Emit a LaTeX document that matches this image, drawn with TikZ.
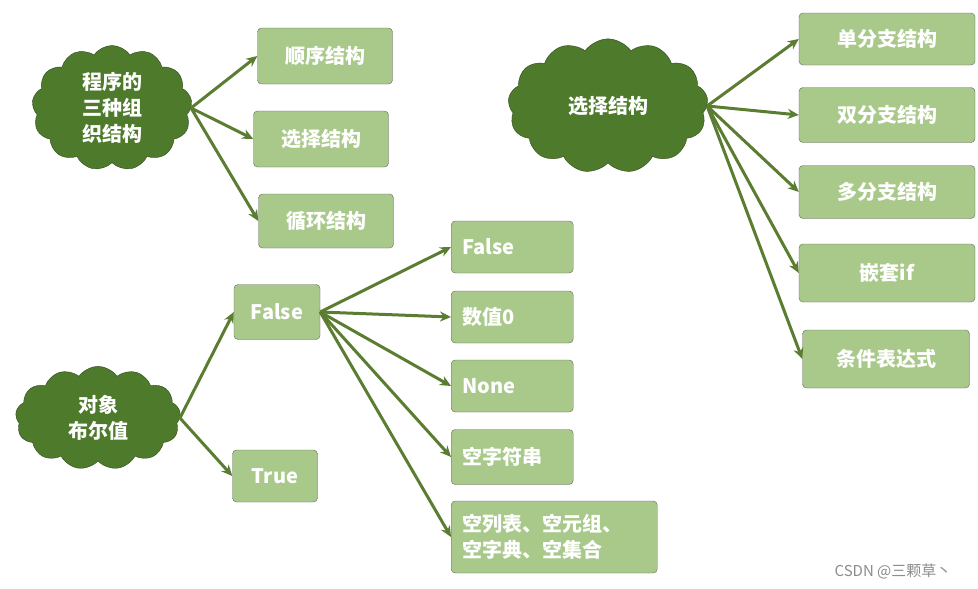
\documentclass[tikz,border=0pt]{standalone}
\usepackage{fontspec}
\setmainfont{Noto Sans CJK SC}
\usetikzlibrary{shapes.symbols,arrows.meta}
\definecolor{leaf}{HTML}{A9C98A}
\definecolor{moss}{HTML}{4E7A2C}
\definecolor{stem}{HTML}{5B7D32}
\tikzset{
  box/.style={draw=black!60,fill=leaf,rounded corners=4pt,text=white,
    font=\fontsize{20}{26}\selectfont\bfseries,align=left,inner sep=6pt},
  bush/.style={cloud,cloud puffs=13,cloud puff arc=110,draw=moss!60!black,fill=moss,
    text=white,font=\fontsize{20}{26}\selectfont\bfseries,align=center},
  twig/.style={-{Stealth[length=11pt,width=10pt]},draw=stem,line width=3pt}
}
\begin{document}
\begin{tikzpicture}[x=1pt,y=-1pt]
\useasboundingbox[fill=white] (0,0) rectangle (978,589);

\node[bush,minimum width=160,minimum height=125] (kinds) at (112,108) {程序的\\三种组\\织结构};
\node[box,minimum width=135,minimum height=56] (seq) at (325,56) {顺序结构};
\node[box,minimum width=135,minimum height=56] (sel) at (321,139) {选择结构};
\node[box,minimum width=135,minimum height=54] (loop) at (326,221) {循环结构};
\draw[twig] (kinds.east) -- (seq.west);
\draw[twig] (kinds.east) -- (sel.west);
\draw[twig] (kinds.east) -- (loop.west);

\node[bush,minimum width=200,minimum height=80] (choice) at (608,106) {选择结构};
\node[box,minimum width=176,minimum height=52] (one) at (887,39) {单分支结构};
\node[box,minimum width=176,minimum height=55] (two) at (887,115) {双分支结构};
\node[box,minimum width=176,minimum height=53] (many) at (887,192) {多分支结构};
\node[box,minimum width=176,minimum height=58,align=center] (nest) at (887,273) {嵌套if};
\node[box,minimum width=167,minimum height=58] (cond) at (886,359) {条件表达式};
\foreach \t in {one,two,many,nest,cond}
  \draw[twig] (choice.east) -- (\t.west);

\node[bush,minimum width=165,minimum height=90] (bool) at (98,418) {对象\\布尔值};
\node[box,minimum width=86,minimum height=55] (no) at (277,312) {False};
\node[box,minimum width=85,minimum height=52] (yes) at (275,476) {True};
\draw[twig] (bool.east) -- (no.west);
\draw[twig] (bool.east) -- (yes.west);

\tikzset{box/.append style={inner xsep=11pt}}
\node[box,text width=100,minimum height=52,anchor=west] (f1) at (451,247) {False};
\node[box,text width=100,minimum height=52,anchor=west] (f2) at (451,317) {数值0};
\node[box,text width=100,minimum height=52,anchor=west] (f3) at (451,386) {None};
\node[box,text width=100,minimum height=55,anchor=west] (f4) at (451,457) {空字符串};
\node[box,text width=184,minimum height=72,anchor=west] (f5) at (451,537) {空列表、空元组、\\空字典、空集合};
\foreach \t in {f1,f2,f3,f4,f5}
  \draw[twig] (no.east) -- (\t.west);

\node[text=black!45,font=\fontsize{15}{18}\selectfont] (mark) at (893,571) {CSDN @三颗草丶};
\end{tikzpicture}
\end{document}
